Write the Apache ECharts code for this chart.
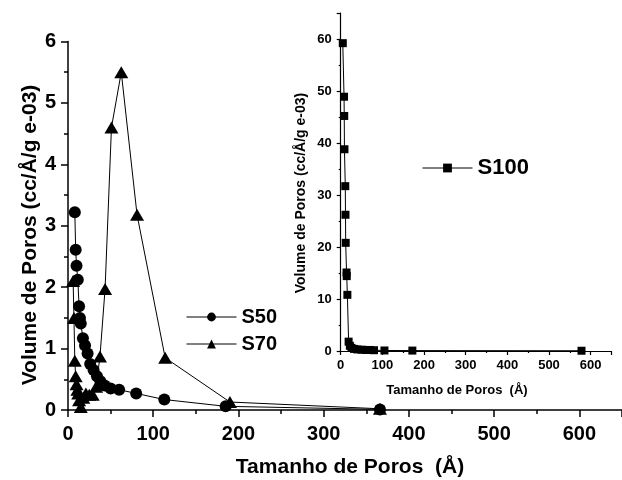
<!DOCTYPE html>
<html>
<head>
<meta charset="utf-8">
<script src="https://cdn.jsdelivr.net/npm/echarts@6/dist/echarts.min.js"></script>
<style>
html, body { margin: 0; padding: 0; background: #fff; }
#chart { width: 622px; height: 480px; }
</style>
</head>
<body>
<div id="chart"></div>
<script>
// S50 (circles) - main plot
const s50X = [8, 9, 10, 11.5, 13, 14, 15, 17.5, 20, 23, 26, 30, 34, 38, 43, 50, 60, 80, 113, 185, 366];
const s50Y = [3.22, 2.61, 2.35, 2.12, 1.69, 1.5, 1.41, 1.17, 1.05, 0.92, 0.75, 0.65, 0.55, 0.47, 0.4, 0.35, 0.33, 0.27, 0.17, 0.06, 0.01];
// S70 (triangles) - main plot
const s70X = [6, 7, 8, 9, 10, 11, 12, 13, 15, 18, 21, 25, 29, 33, 37.5, 43.5, 51, 62.5, 81, 114, 190, 366];
const s70Y = [2.1, 1.5, 0.8, 0.55, 0.42, 0.33, 0.27, 0.16, 0.05, 0.2, 0.27, 0.25, 0.25, 0.38, 0.87, 1.97, 4.6, 5.5, 3.18, 0.85, 0.13, 0.02];
// S100 (squares) - inset
const s100X = [5, 8, 8.5, 9, 11, 11.5, 12, 14, 14.5, 16, 19, 22, 26, 32, 40, 50, 60, 70, 80, 105, 172, 578];
const s100Y = [59.2, 48.9, 45.2, 38.8, 31.7, 26.2, 20.8, 15.1, 14.4, 10.8, 1.8, 1.0, 0.6, 0.4, 0.3, 0.25, 0.2, 0.2, 0.15, 0.1, 0.08, 0.05];

const FONT = "'Liberation Sans', Arial, sans-serif";

function pairs(xs, ys) {
  return xs.map((x, i) => [x, ys[i]]);
}

const chart = echarts.init(document.getElementById('chart'));

function axisBase(size, tickLen, lineW, showMax, margin) {
  return {
    axisLine: { show: true, onZero: false, lineStyle: { color: '#000', width: lineW } },
    axisTick: { show: true, length: tickLen, lineStyle: { color: '#000', width: lineW } },
    minorTick: { show: true, splitNumber: 2, length: Math.round(tickLen * 0.6), lineStyle: { color: '#000', width: lineW } },
    splitLine: { show: false },
    axisLabel: { color: '#000', fontSize: size, fontWeight: 'bold', fontFamily: FONT, showMaxLabel: showMax, margin: margin }
  };
}

const option = {
  backgroundColor: '#fff',
  animation: false,
  grid: [
    { left: 68, top: 41.5, width: 562, height: 368.5 },
    { left: 340.7, top: 13, width: 270.8, height: 338 }
  ],
  xAxis: [
    Object.assign(axisBase(20, 7, 1.5, false, 14), {
      type: 'value', gridIndex: 0, min: 0, max: 650, interval: 100
    }),
    Object.assign(axisBase(13, 4, 1.2, false, 8), {
      type: 'value', gridIndex: 1, min: 0, max: 650, interval: 100
    })
  ],
  yAxis: [
    Object.assign(axisBase(20, 7, 1.5, true, 12), {
      type: 'value', gridIndex: 0, min: 0, max: 6, interval: 1
    }),
    Object.assign(axisBase(13, 4, 1.2, false, 9), {
      type: 'value', gridIndex: 1, min: 0, max: 65, interval: 10
    })
  ],
  legend: [
    {
      orient: 'vertical', left: 181, top: 302, itemWidth: 50, itemHeight: 11, itemGap: 7,
      data: ['S50', 'S70'],
      lineStyle: { width: 1 },
      textStyle: { color: '#000', fontSize: 20, fontWeight: 'bold', fontFamily: FONT }
    },
    {
      orient: 'vertical', left: 417, top: 152, itemWidth: 50, itemHeight: 11,
      data: ['S100'],
      lineStyle: { width: 1 },
      textStyle: { color: '#000', fontSize: 22, fontWeight: 'bold', fontFamily: FONT }
    }
  ],
  series: [
    {
      name: 'S50', type: 'line', xAxisIndex: 0, yAxisIndex: 0,
      data: pairs(s50X, s50Y),
      symbol: 'circle', symbolSize: 12,
      itemStyle: { color: '#000' },
      lineStyle: { color: '#000', width: 1 }
    },
    {
      name: 'S70', type: 'line', xAxisIndex: 0, yAxisIndex: 0,
      data: pairs(s70X, s70Y),
      symbol: 'triangle', symbolSize: [14, 12],
      itemStyle: { color: '#000' },
      lineStyle: { color: '#000', width: 1 }
    },
    {
      name: 'S100', type: 'line', xAxisIndex: 1, yAxisIndex: 1,
      data: pairs(s100X, s100Y),
      symbol: 'rect', symbolSize: 8,
      itemStyle: { color: '#000' },
      lineStyle: { color: '#000', width: 1 }
    }
  ],
  graphic: [
    {
      type: 'text', x: 30, y: 235, rotation: Math.PI / 2,
      style: { text: 'Volume de Poros (cc/Å/g e-03)', fill: '#000', font: 'bold 21px ' + FONT, textAlign: 'center', textVerticalAlign: 'middle' }
    },
    {
      type: 'text', x: 350, y: 467,
      style: { text: 'Tamanho de Poros  (Å)', fill: '#000', font: 'bold 21px ' + FONT, textAlign: 'center', textVerticalAlign: 'middle' }
    },
    {
      type: 'text', x: 301, y: 193, rotation: Math.PI / 2,
      style: { text: 'Volume de Poros (cc/Å/g e-03)', fill: '#000', font: 'bold 14px ' + FONT, textAlign: 'center', textVerticalAlign: 'middle' }
    },
    {
      type: 'text', x: 457, y: 390,
      style: { text: 'Tamanho de Poros  (Å)', fill: '#000', font: 'bold 13px ' + FONT, textAlign: 'center', textVerticalAlign: 'middle' }
    }
  ]
};

chart.setOption(option);
</script>
</body>
</html>
